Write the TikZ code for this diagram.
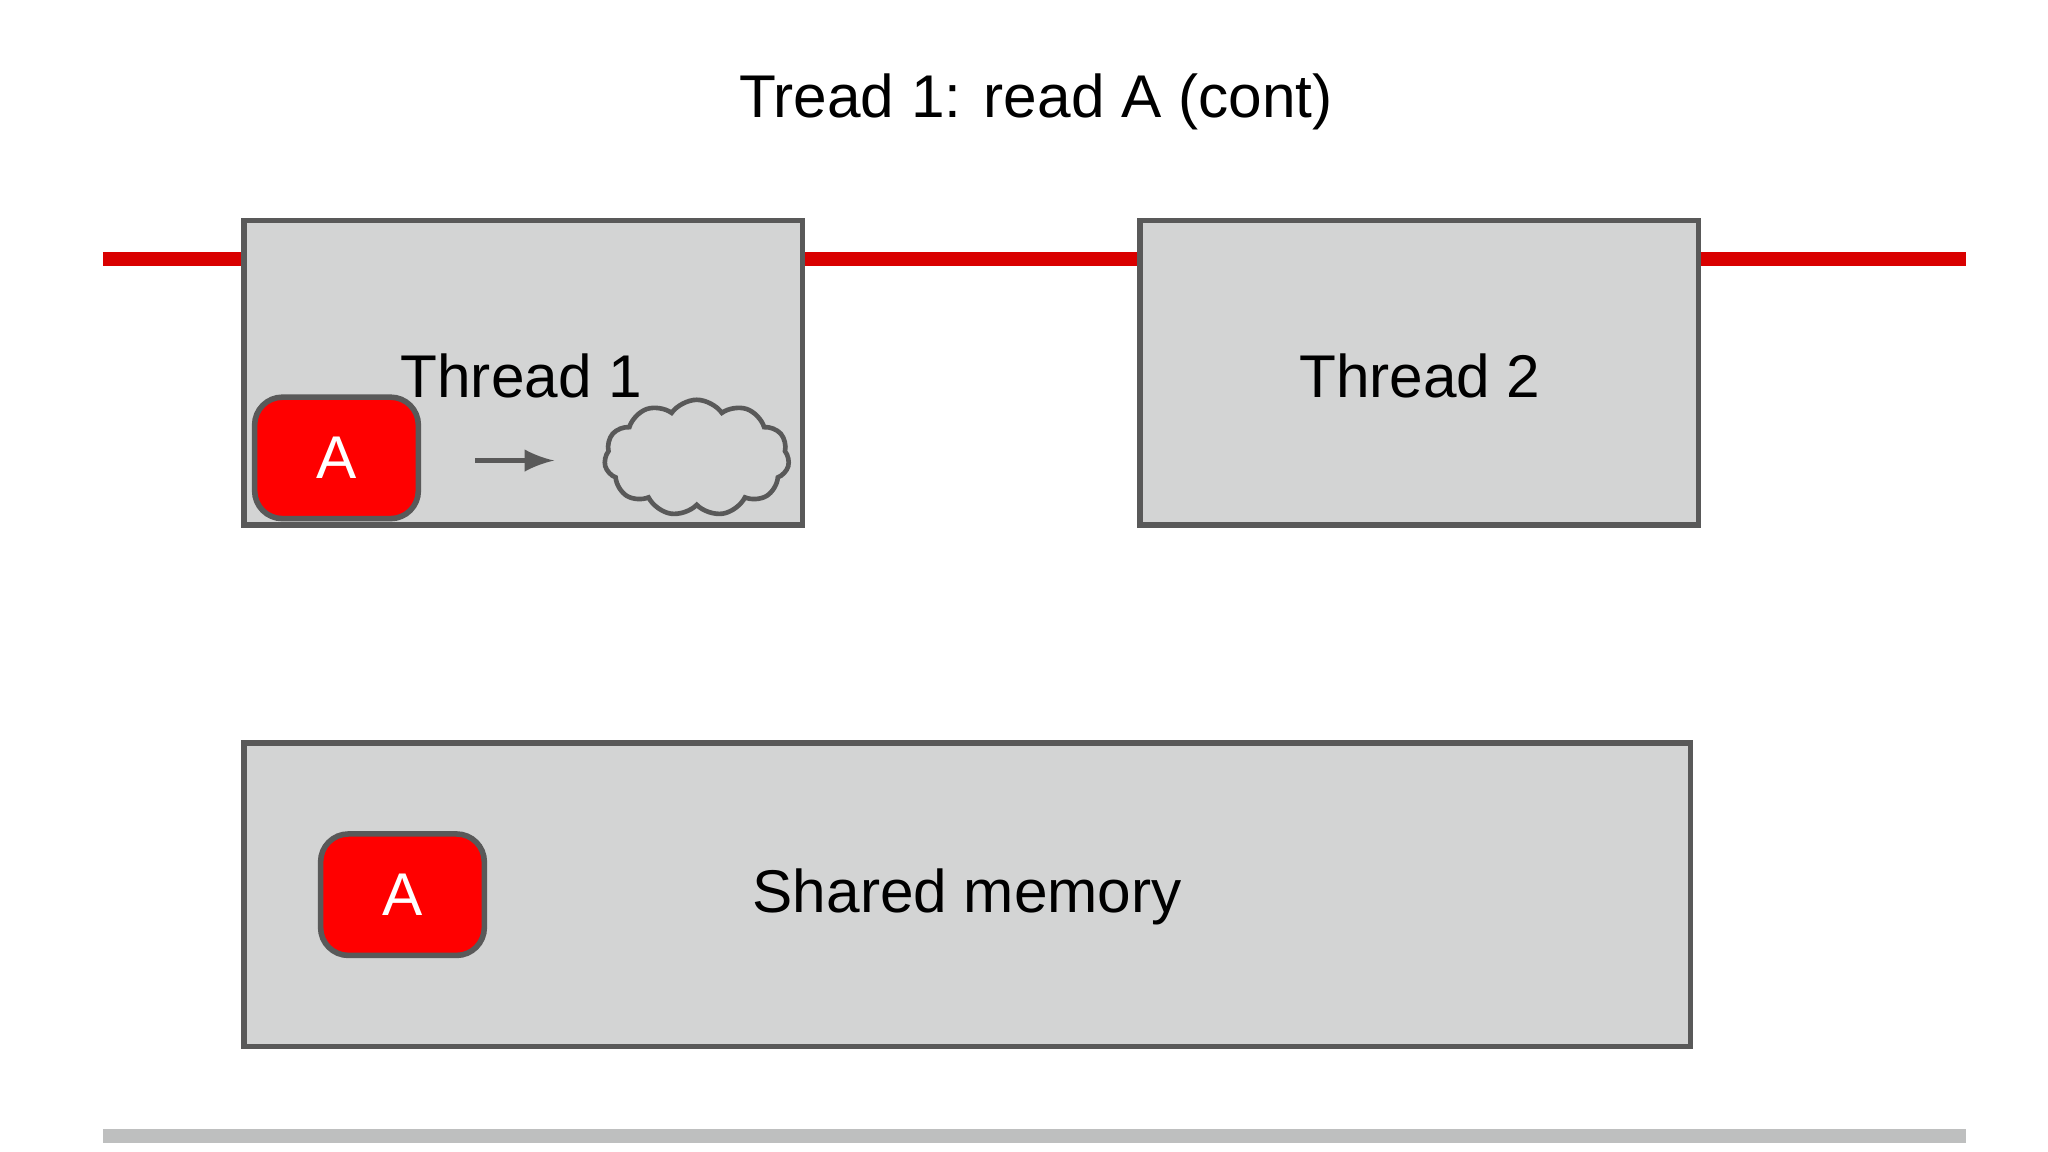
\documentclass[tikz,border=0pt]{standalone}
\usepackage{fontspec}
\setmainfont{Liberation Sans}
\usetikzlibrary{shapes.symbols}
\definecolor{boxgray}{HTML}{D3D4D4}
\definecolor{edge}{HTML}{595959}
\definecolor{myred}{HTML}{FF0000}
\definecolor{linered}{HTML}{D90000}
\begin{document}
\begin{tikzpicture}[x=0.01cm,y=-0.01cm,
  box/.style={draw=edge,fill=boxgray,line width=1.2pt},
  abox/.style={draw=edge,fill=myred,line width=1.2pt,rounded corners=6pt,minimum width=1.24cm,minimum height=0.92cm,text=white,font=\fontsize{13}{15}\selectfont,inner sep=0},
  lbl/.style={font=\fontsize{13}{15}\selectfont}]
\useasboundingbox (0,0) rectangle (1552,873);
\node[lbl] (title) at (785,77) {Tread 1: read A (cont)};
\draw[linered,line width=3pt] (78,196) -- (1490,196);
\draw[boxgray!90!black,line width=3pt] (78,861) -- (1490,861);
\draw[box] (185,167) rectangle (608,398);
\draw[box] (864,167) rectangle (1287,398);
\draw[box] (185,563) rectangle (1281,793);
\node[lbl] (t1) at (395,285) {Thread 1};
\node[lbl] (t2) at (1076,285) {Thread 2};
\node[lbl] (sm) at (733,680) {Shared memory};
\node[abox] (a1) at (255,347) {A};
\node[abox] (a2) at (305,678) {A};
\node[cloud,cloud puffs=11,cloud puff arc=110,aspect=1.6,draw=edge,line width=1pt,minimum width=1.4cm,minimum height=0.88cm,inner sep=0] (cl) at (528,347) {};
\coordinate (s) at (360,349);
\coordinate (e) at (420,349);
\draw[edge,line width=1.2pt,-latex] (s) -- (e);
\end{tikzpicture}
\end{document}
